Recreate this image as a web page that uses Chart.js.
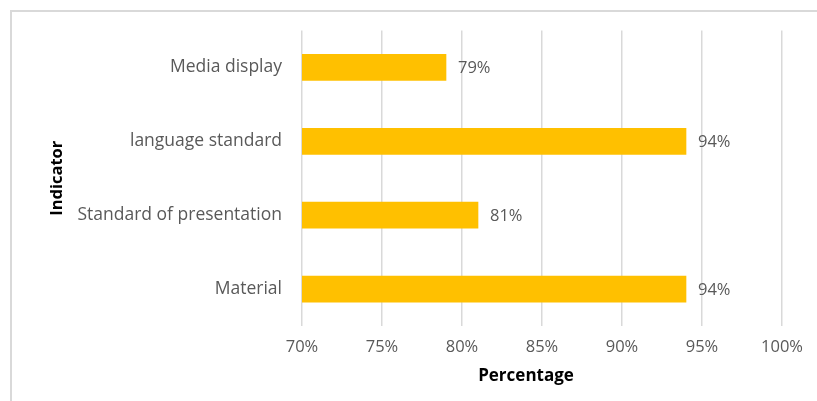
<!DOCTYPE html>
<html>
<head>
<meta charset="utf-8">
<script src="https://cdn.jsdelivr.net/npm/chart.js@4"></script>
<style>
  html, body { margin: 0; padding: 0; background: #fff; overflow: hidden; }
  #frame { position: absolute; left: 10px; top: 10px; width: 900px; height: 500px; border: 2px solid #d9d9d9; }
  #wrap { position: absolute; left: 0; top: 0; width: 817px; height: 401px; }
</style>
</head>
<body>
<div id="frame"></div>
<div id="wrap"><canvas id="myChart"></canvas></div>
<script>
const indicators = ["Media display", "language standard", "Standard of presentation", "Material"];
const percentValues = [79, 94, 81, 94];
const xTicks = [70, 75, 80, 85, 90, 95, 100];

const grayText = "#595959";
const fontFamily = "'Open Sans', sans-serif";

// value labels to the right of each bar
const barLabels = {
  id: "barLabels",
  afterDatasetsDraw(chart) {
    const ctx = chart.ctx;
    const meta = chart.getDatasetMeta(0);
    ctx.save();
    ctx.fillStyle = grayText;
    ctx.font = "16.5px " + fontFamily;
    ctx.textAlign = "left";
    ctx.textBaseline = "middle";
    meta.data.forEach((bar, i) => {
      ctx.fillText(percentValues[i] + "%", bar.x + 12, bar.y + 1);
    });
    ctx.restore();
  }
};

// x axis title, sits a little left of the plot centre like the original
const xTitle = {
  id: "xTitle",
  afterDraw(chart) {
    const ctx = chart.ctx;
    const area = chart.chartArea;
    ctx.save();
    ctx.fillStyle = "#000";
    ctx.font = "bold 17px " + fontFamily;
    ctx.textAlign = "center";
    ctx.textBaseline = "middle";
    ctx.fillText("Percentage", (area.left + area.right) / 2 - 16, area.bottom + 50);
    ctx.restore();
  }
};

new Chart("myChart", {
  type: "bar",
  data: {
    labels: indicators,
    datasets: [{
      data: percentValues,
      backgroundColor: "#FFC000",
      barThickness: 26
    }]
  },
  options: {
    indexAxis: "y",
    responsive: true,
    maintainAspectRatio: false,
    animation: false,
    layout: { padding: { top: 30, right: 35, left: 0, bottom: 0 } },
    plugins: {
      legend: { display: false },
      tooltip: { enabled: false }
    },
    scales: {
      x: {
        min: 70,
        max: 100,
        afterBuildTicks: (scale) => { scale.ticks = xTicks.map(v => ({ value: v })); },
        afterFit: (scale) => { scale.height = 75; },
        grid: { color: "#d9d9d9", lineWidth: 1.5, drawTicks: false },
        border: { display: false },
        ticks: {
          padding: 11,
          color: grayText,
          font: { family: fontFamily, size: 16.5 },
          callback: (v) => v + "%"
        }
      },
      y: {
        afterFit: (scale) => { scale.width = 302; },
        grid: { display: false, drawTicks: false },
        border: { display: false },
        ticks: {
          padding: 20,
          color: grayText,
          font: { family: fontFamily, size: 17.5 }
        },
        title: {
          display: true,
          text: "Indicator",
          color: "#000",
          font: { family: fontFamily, size: 16.5, weight: "bold" },
          padding: { top: 47, bottom: 0 }
        }
      }
    }
  },
  plugins: [barLabels, xTitle]
});
</script>
</body>
</html>
